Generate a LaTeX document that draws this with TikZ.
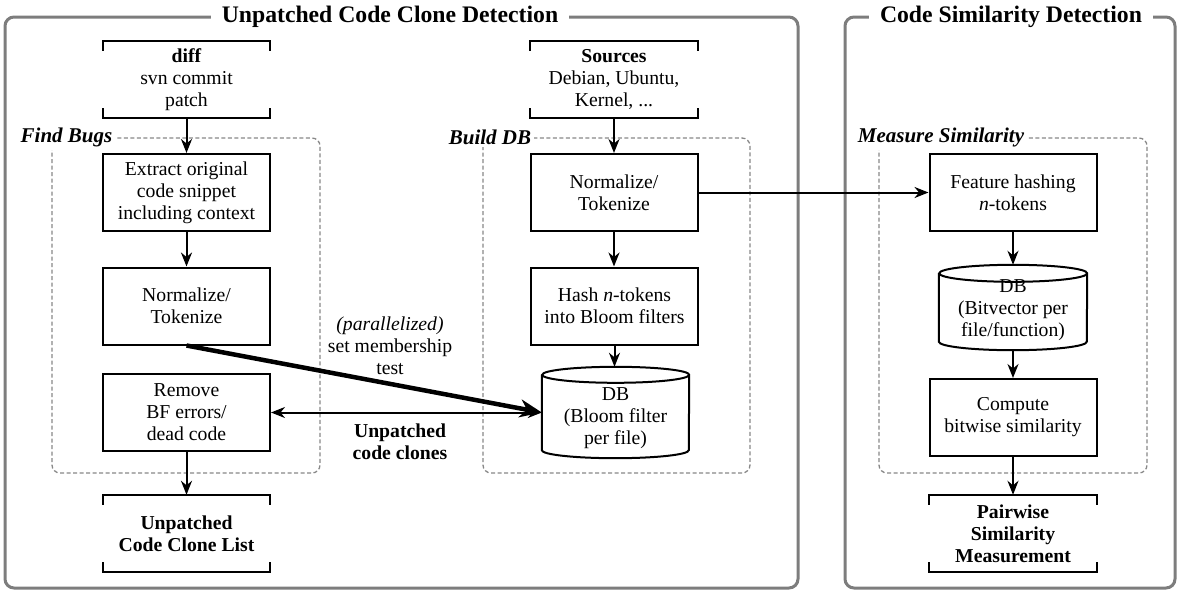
\documentclass[tikz,border=0pt]{standalone}
\usepackage{fontspec}
\setmainfont{Liberation Serif}
\newfontfamily\diagserif{Liberation Serif}
\usetikzlibrary{arrows.meta,calc}
\definecolor{framegray}{RGB}{125,125,125}
\definecolor{dashgray}{RGB}{135,135,135}
\newcommand\brackdraw[1]{%
  \draw[line width=2pt] ($(#1.north west)+(0,10)$) -- (#1.north west) -- (#1.north east) -- ($(#1.north east)+(0,10)$);
  \draw[line width=2pt] ($(#1.south west)+(0,-10)$) -- (#1.south west) -- (#1.south east) -- ($(#1.south east)+(0,-10)$);}
\newcommand\cyldraw[3]{%
  \draw[line width=2pt] ($(#1.north west)+(0,#3)$) -- ($(#1.south west)+(0,-#3)$)
    arc[start angle=180,end angle=360,x radius=#2pt,y radius=#3pt]
    -- ($(#1.north east)+(0,#3)$)
    arc[start angle=0,end angle=360,x radius=#2pt,y radius=#3pt];}
\begin{document}
\begin{tikzpicture}[x=1pt,y=-1pt,
  every node/.style={font=\diagserif\fontsize{19.7}{22}\selectfont, align=center, inner sep=0pt},
  procbox/.style={draw, line width=2pt, minimum width=167pt, minimum height=77pt},
  brackbox/.style={minimum width=167pt, minimum height=77pt},
  outerframe/.style={draw=framegray, line width=3pt, rounded corners=9pt},
  groupframe/.style={draw=dashgray, line width=1.3pt, dash pattern=on 4pt off 2.5pt, rounded corners=8pt},
  titlelbl/.style={fill=white, font=\diagserif\fontsize{23.7}{26}\selectfont\bfseries, inner xsep=11pt, inner ysep=2pt},
  grouplbl/.style={fill=white, font=\diagserif\fontsize{21}{24}\selectfont\bfseries\itshape, inner sep=3pt},
  flow/.style={line width=2pt, -{Stealth[length=14pt,width=11pt,inset=4.5pt]}},
  bothflow/.style={line width=2pt, {Stealth[length=14pt,width=11pt,inset=4.5pt]}-{Stealth[length=14pt,width=11pt,inset=4.5pt]}},
  heavyflow/.style={line width=4.5pt, -{Stealth[length=22pt,width=18pt,inset=7pt]}}
]
\useasboundingbox (0,0) rectangle (1179,592);

% outer frames
\draw[outerframe] (5,17) rectangle (798,588);
\draw[outerframe] (845,17) rectangle (1175,588);
\node[titlelbl] (t1) at (390,17) {Unpatched Code Clone Detection};
\node[titlelbl] (t2) at (1011,17) {Code Similarity Detection};

% group frames
\draw[groupframe] (52,138) rectangle (320,473);
\draw[groupframe] (483,138) rectangle (750,473);
\draw[groupframe] (879,138) rectangle (1147,473);
\node[grouplbl] (g1) at (66.5,137) {Find Bugs};
\node[grouplbl] (g2) at (490,137) {Build DB};
\node[grouplbl] (g3) at (941,137) {Measure Similarity};

% left column
\node[brackbox] (diff) at (186.5,79.5) {\textbf{diff}\\svn commit\\patch};
\node[procbox] (extract) at (186.5,192.5) {Extract original\\code snippet\\including context};
\node[procbox] (normL) at (186.5,306) {Normalize/\\Tokenize};
\node[procbox] (remove) at (186.5,412.5) {Remove\\BF errors/\\dead code};
\node[brackbox] (list) at (186.5,533.5) {\textbf{Unpatched}\\\textbf{Code Clone List}};

% middle column
\node[brackbox] (sources) at (614,79.5) {\textbf{Sources}\\Debian, Ubuntu,\\Kernel, ...};
\node[procbox] (normM) at (614,192.5) {Normalize/\\Tokenize};
\node[procbox] (hash) at (614.5,306) {Hash \textit{n}-tokens\\into Bloom filters};
\node[minimum width=147pt, minimum height=91pt] (db1) at (615.5,412.5) {};
\node (db1text) at (615.5,418) {DB\\(Bloom filter\\per file)};

% right column
\node[procbox] (feature) at (1013,192.5) {Feature hashing\\\textit{n}-tokens};
\node[minimum width=148pt, minimum height=85pt] (db2) at (1013,307.5) {};
\node (db2text) at (1013,310) {DB\\(Bitvector per\\file/function)};
\node[procbox] (compute) at (1013,417.5) {Compute\\bitwise similarity};
\node[brackbox] (pair) at (1013,533.5) {\textbf{Pairwise}\\\textbf{Similarity}\\\textbf{Measurement}};

\brackdraw{diff}
\brackdraw{list}
\brackdraw{sources}
\brackdraw{pair}
\cyldraw{db1}{73.5}{8}
\cyldraw{db2}{74}{8.5}

% annotations
\node (par) at (390,345.5) {\textit{(parallelized)}\\set membership\\test};
\node (unp) at (400,441.5) {\textbf{Unpatched}\\\textbf{code clones}};

% connectors
\draw[flow] (diff.south) -- (extract.north);
\draw[flow] (extract.south) -- (normL.north);
\draw[flow] (remove.south) -- (list.north);
\draw[flow] (sources.south) -- (normM.north);
\draw[flow] (normM.south) -- (hash.north -| normM.south);
\draw[flow] (hash.south) -- (db1.north -| hash.south);
\draw[flow] (normM.east) -- (feature.west);
\draw[flow] (feature.south) -- (db2.north);
\draw[flow] (db2.south) -- (compute.north);
\draw[flow] (compute.south) -- (pair.north);
\draw[bothflow] (remove.east) -- (db1.west);
\draw[heavyflow] (normL.south) -- (db1.west);
\end{tikzpicture}
\end{document}
